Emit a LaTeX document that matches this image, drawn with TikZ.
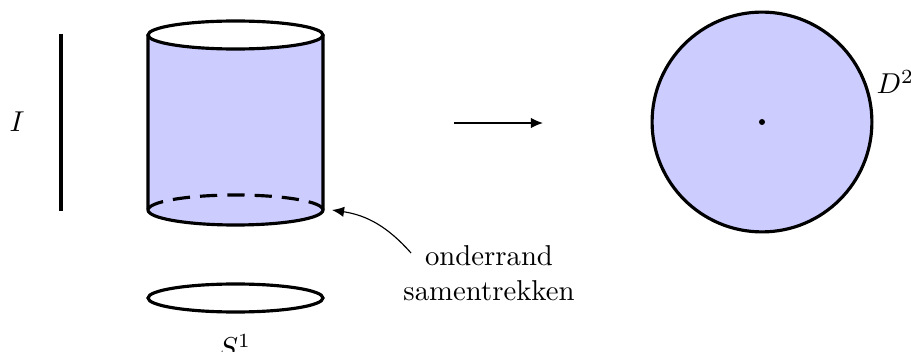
\documentclass[tikz,border=0pt]{standalone}
\usetikzlibrary{arrows.meta}
\begin{document}
\begin{tikzpicture}[x=0.348pt,y=0.348pt,
  edge/.style={line width=1.1pt},
  surf/.style={fill=blue!20},
  lab/.style={inner sep=0pt},
  tip/.style={-{Latex[length=4.2pt,width=3.6pt]}}]
\useasboundingbox (0,0) rectangle (911,-352);
% interval I
\coordinate (itop) at (61,-34);
\coordinate (ibot) at (61,-211);
\draw[edge] (itop) -- (ibot);
\node[lab] (I) at (17,-122) {$I$};
% cylinder
\fill[surf] (148,-35) -- (148,-210) arc[start angle=180,end angle=360,x radius=87.5,y radius=15] -- (323,-35) arc[start angle=0,end angle=-180,x radius=87.5,y radius=14] -- cycle;
\draw[edge] (235.5,-35) ellipse[x radius=87.5,y radius=14];
\draw[edge] (148,-35) -- (148,-210) arc[start angle=180,end angle=360,x radius=87.5,y radius=15] -- (323,-35);
\draw[edge,dashed,dash pattern=on 6pt off 3.5pt] (323,-210) arc[start angle=0,end angle=180,x radius=87.5,y radius=15];
\coordinate (rim) at (332,-210);
% S1
\draw[edge] (235.5,-298) ellipse[x radius=87.5,y radius=14];
\node[lab] (S) at (235,-346) {$S^1$};
% arrow
\coordinate (a1) at (454,-123);
\coordinate (a2) at (543,-123);
\draw[tip] (a1) -- (a2);
% disk
\node[circle,draw,line width=1.1pt,fill=blue!20,minimum size=76.5pt,inner sep=0pt] (D) at (762,-122) {};
\fill (D.center) circle[radius=3];
\node[lab,anchor=west] (D2) at (876,-82) {$D^2$};
% annotation
\node[lab,anchor=base] (txt1) at (489,-266) {onderrand};
\node[lab,anchor=base] (txt2) at (489,-300.5) {samentrekken};
\coordinate (tstart) at (411,-253);
\draw[tip] (tstart) to[bend right=20] (rim);
\end{tikzpicture}
\end{document}
